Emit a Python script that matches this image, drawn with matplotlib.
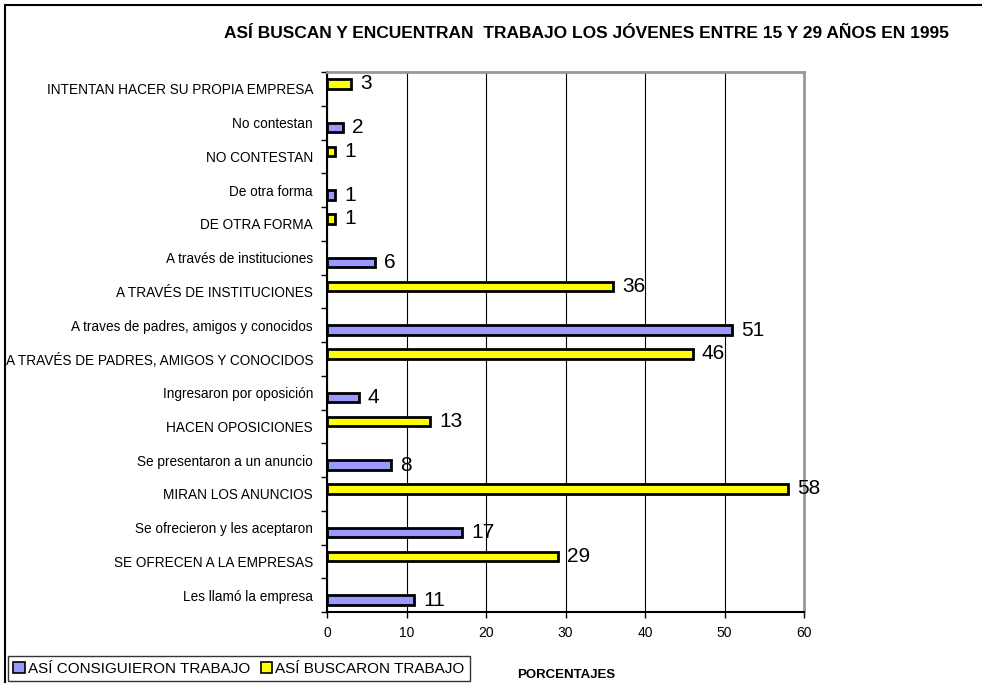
import numpy as np
import matplotlib.pyplot as plt
from matplotlib.patches import Patch, Rectangle

# categories listed from bottom to top
categorias = ["Les llamó la empresa",
              "SE OFRECEN A LA EMPRESAS",
              "Se ofrecieron y les aceptaron",
              "MIRAN LOS ANUNCIOS",
              "Se presentaron a un anuncio",
              "HACEN OPOSICIONES",
              "Ingresaron por oposición",
              "A TRAVÉS DE PADRES, AMIGOS Y CONOCIDOS",
              "A traves de padres, amigos y conocidos",
              "A TRAVÉS DE INSTITUCIONES",
              "A través de instituciones",
              "DE OTRA FORMA",
              "De otra forma",
              "NO CONTESTAN",
              "No contestan",
              "INTENTAN HACER SU PROPIA EMPRESA"]
nan = np.nan
consiguieron = [11, nan, 17, nan, 8, nan, 4, nan, 51, nan, 6, nan, 1, nan, 2, nan]
buscaron = [nan, 29, nan, 58, nan, 13, nan, 46, nan, 36, nan, 1, nan, 1, nan, 3]
xticks = [0, 10, 20, 30, 40, 50, 60]

titulo = "ASÍ BUSCAN Y ENCUENTRAN  TRABAJO LOS JÓVENES ENTRE 15 Y 29 AÑOS EN 1995"

plt.rcParams['font.family'] = ['Liberation Sans', 'DejaVu Sans']

fig = plt.figure(figsize=(9.82, 6.83), dpi=100)
ax = fig.add_axes([327 / 982, 1 - 612 / 683, (804 - 327) / 982, (612 - 72) / 683])

y = np.arange(len(categorias))
h = 0.28
off = 0.15
c_blue = '#9999ff'
c_yel = '#ffff00'

cons = np.array(consiguieron, dtype=float)
busc = np.array(buscaron, dtype=float)
mb = ~np.isnan(cons)
my = ~np.isnan(busc)
ax.barh(y[mb] - off, cons[mb], height=h, color=c_blue, edgecolor='black', linewidth=2, zorder=3)
ax.barh(y[my] + off, busc[my], height=h, color=c_yel, edgecolor='black', linewidth=2, zorder=3)

for yy, v in zip(y[mb], cons[mb]):
    ax.text(v + 1.15, yy - off, "%d" % v, va='center', ha='left', fontsize=15)
for yy, v in zip(y[my], busc[my]):
    ax.text(v + 1.15, yy + off, "%d" % v, va='center', ha='left', fontsize=15)

ax.set_xlim(0, 60)
ax.set_ylim(-0.5, len(categorias) - 0.5)
ax.set_xticks(xticks)
ax.set_xticklabels([str(t) for t in xticks], fontsize=10)
ax.set_yticks(y)
ax.set_yticklabels(categorias, fontsize=9.8)
ax.tick_params(axis='y', length=0, pad=10)
ax.set_yticks(np.arange(-0.5, len(categorias), 1), minor=True)
ax.tick_params(axis='y', which='minor', length=4, width=1, direction='out')
ax.tick_params(axis='x', length=4, width=1, direction='out', pad=6)

ax.grid(axis='x', color='black', linewidth=0.8, zorder=0)
ax.set_axisbelow(True)
ax.spines['left'].set_linewidth(1.5)
ax.spines['bottom'].set_linewidth(1.5)
ax.spines['top'].set_color('#999999')
ax.spines['right'].set_color('#999999')
ax.spines['top'].set_linewidth(2)
ax.spines['right'].set_linewidth(2)

fig.text(586 / 982, 1 - 33 / 683, titulo, ha='center', va='center', fontsize=12.5, fontweight='bold')
fig.text(566 / 982, 1 - 675 / 683, "PORCENTAJES", ha='center', va='center', fontsize=9.5, fontweight='bold')

handles = [Patch(facecolor=c_blue, edgecolor='black', linewidth=1.2),
           Patch(facecolor=c_yel, edgecolor='black', linewidth=1.2)]
leg = fig.legend(handles, ["ASÍ CONSIGUIERON TRABAJO", "ASÍ BUSCARON TRABAJO"],
                 loc='lower left', bbox_to_anchor=(8 / 982, 1 - 681 / 683), ncol=2,
                 fontsize=11, frameon=True, fancybox=False, handlelength=0.75, handleheight=0.75,
                 handletextpad=0.2, columnspacing=0.7, borderpad=0.35, borderaxespad=0)
leg.get_frame().set_edgecolor('black')
leg.get_frame().set_linewidth(1)

# chart area border
fig.patches.append(Rectangle((5 / 982, -0.01), 1.02, 1 - 5 / 683 + 0.01, transform=fig.transFigure,
                             fill=False, edgecolor='black', linewidth=1.5))

fig.savefig("out.png", dpi=100)
